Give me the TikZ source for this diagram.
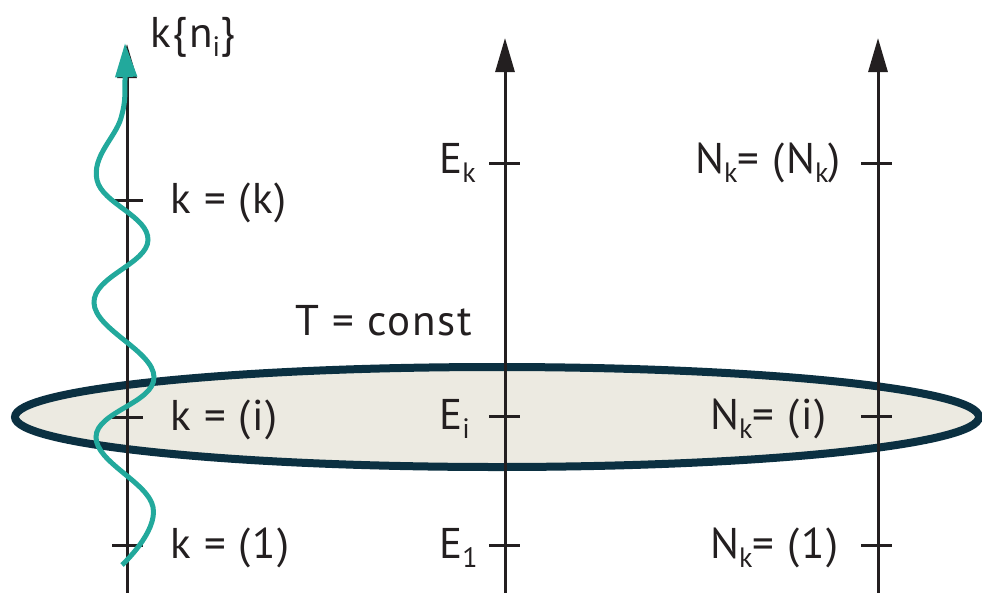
\documentclass[tikz,border=0pt]{standalone}
\usepackage{fontspec}
\setmainfont{PT Sans}[LetterSpace=4]
\usetikzlibrary{arrows.meta,shapes.geometric}
\definecolor{txt}{HTML}{231F20}
\definecolor{ellline}{HTML}{0B3041}
\definecolor{ellfill}{HTML}{ECEAE1}
\definecolor{wave}{HTML}{22A99C}
\newcommand\sbs[1]{\raisebox{-0.22em}{\fontsize{28}{30}\selectfont #1}}
\tikzset{
  axisline/.style={line width=3pt, draw=txt, -{Triangle[length=34pt,width=19pt]}},
  tickmark/.style={line width=3pt, draw=txt},
  lbl/.style={inner sep=0pt, text=txt, font=\fontsize{43}{48}\selectfont},
  wavy/.style={line width=5pt, draw=wave, -{Triangle[length=34pt,width=21pt]}},
}
\begin{document}
\begin{tikzpicture}[x=1pt,y=-1pt]
\useasboundingbox (0,0) rectangle (982,592);
% ellipse
\node (ell) [draw=ellline, fill=ellfill, line width=8pt, ellipse, minimum width=964pt, minimum height=100pt, inner sep=0pt] at (497,417) {};
% axes
\coordinate (a1b) at (127,600); \coordinate (a1t) at (127,44);
\coordinate (a2b) at (505,600); \coordinate (a2t) at (505,38);
\coordinate (a3b) at (878,600); \coordinate (a3t) at (878,38);
\draw[axisline] (a1b) -- (a1t);
\draw[axisline] (a2b) -- (a2t);
\draw[axisline] (a3b) -- (a3t);
% ticks
\foreach \yy in {200,417,545} \draw[tickmark] (112,\yy) -- (143,\yy);
\foreach \yy in {163,416,545} \draw[tickmark] (489,\yy) -- (520,\yy);
\foreach \yy in {163,416,545} \draw[tickmark] (861,\yy) -- (892,\yy);
% labels
\node (lk) [lbl, anchor=base west] at (170,213) {k = (k)};
\node (li) [lbl, anchor=base west] at (170,430) {k = (i)};
\node (l1) [lbl, anchor=base west] at (170,558) {k = (1)};
\node (Ek) [lbl, anchor=base west] at (439,173) {E\sbs{k}};
\node (Ei) [lbl, anchor=base west] at (439,429) {E\sbs{i}};
\node (E1) [lbl, anchor=base west] at (439,558) {E\sbs{1}};
\node (Nk) [lbl, anchor=base west] at (695,173) {N\sbs{k}= (N\sbs{k})};
\node (Ni) [lbl, anchor=base west] at (710,429) {N\sbs{k}= (i)};
\node (N1) [lbl, anchor=base west] at (710,558) {N\sbs{k}= (1)};
\node (T) [lbl, anchor=base west] at (295,335) {T = const};
\node (kn) [lbl, anchor=base west] at (150,47) {k\{n\sbs{i}\}};
% wave
\draw[wavy] plot[smooth, tension=0.7] coordinates {(122,565) (153,507) (96,437) (154,377) (94,303) (148,240) (97,180) (121,118) (125,80) (125,43)};
\end{tikzpicture}
\end{document}
